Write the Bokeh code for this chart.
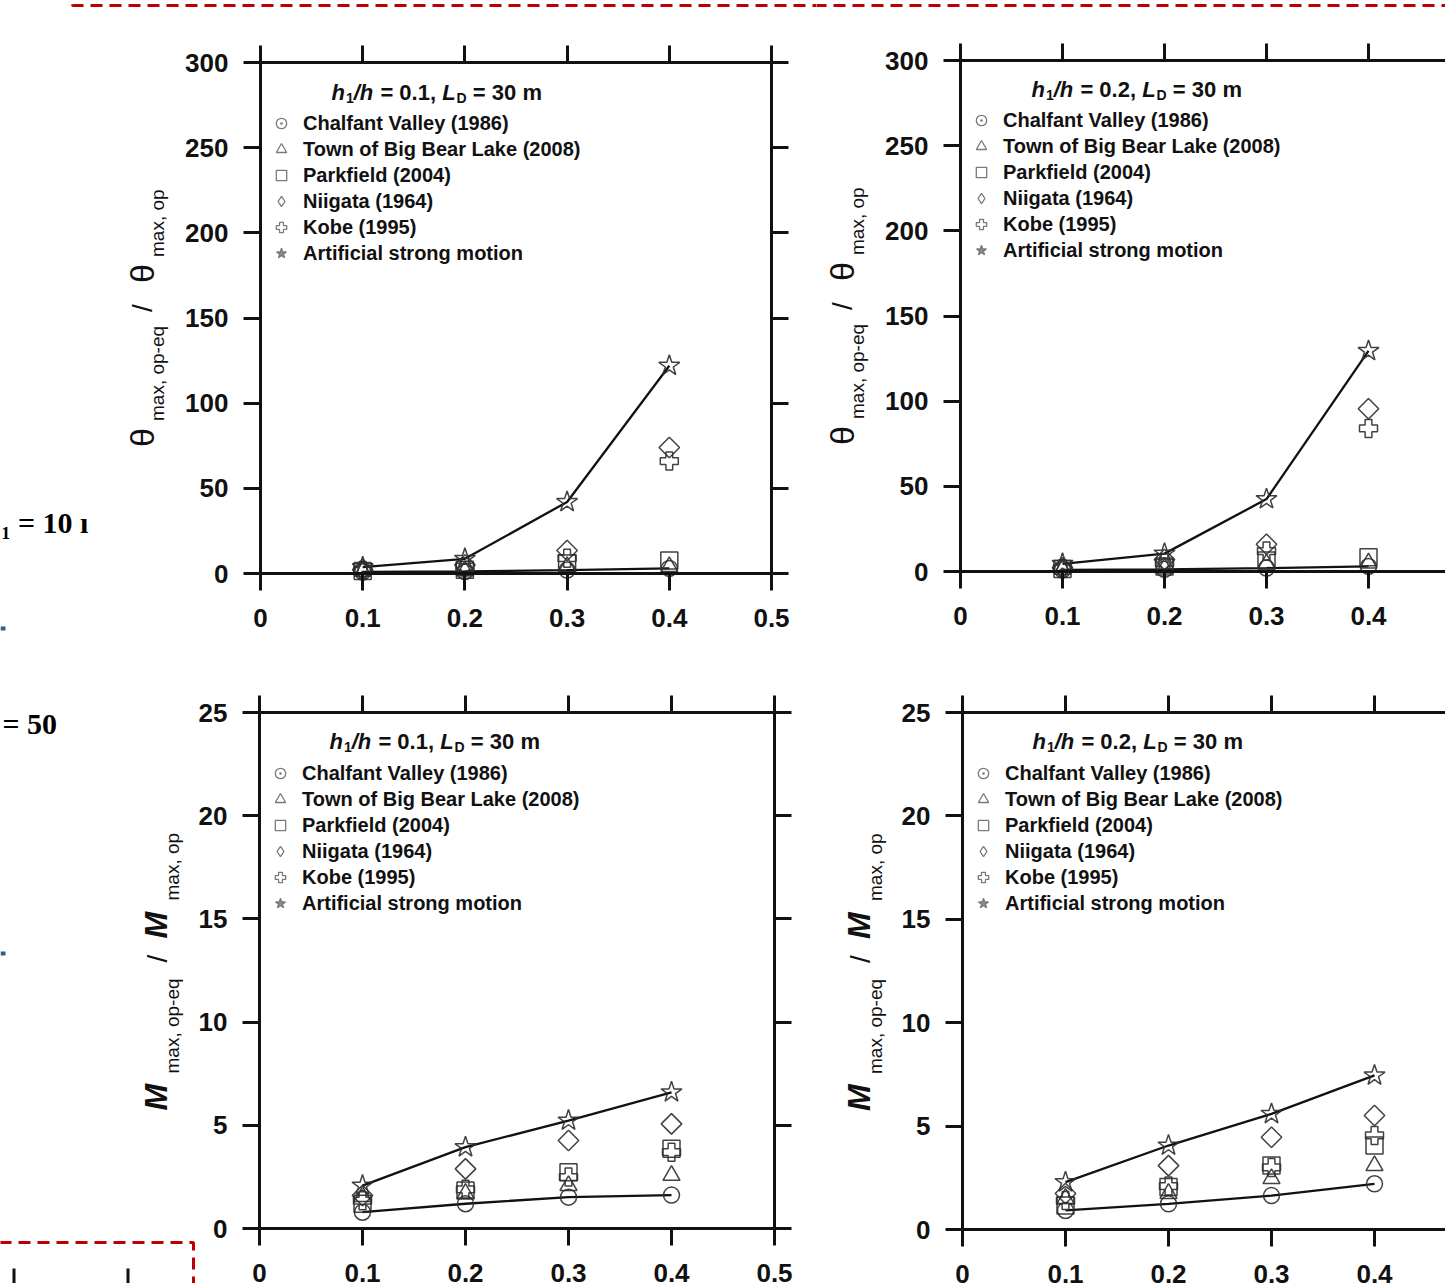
import math
from bokeh.plotting import figure
from bokeh.layouts import column, row
from bokeh.models import (Range1d, LinearAxis, FixedTicker, CustomJSTickFormatter,
                          Label, Legend, LegendItem, BoxAnnotation)
from bokeh.embed import file_html
from bokeh.resources import INLINE

# ---------------- data ----------------
ratio_h = [0.1, 0.2, 0.3, 0.4]
x_ticks = [0, 0.1, 0.2, 0.3, 0.4, 0.5]
theta_ticks = [0, 50, 100, 150, 200, 250, 300]
m_ticks = [0, 5, 10, 15, 20, 25]

events = ["Chalfant Valley (1986)", "Town of Big Bear Lake (2008)", "Parkfield (2004)",
          "Niigata (1964)", "Kobe (1995)", "Artificial strong motion"]

# theta ratio, h1/h = 0.1
theta_a_chalfant = [1.0, 1.2, 2.0, 3.0]
theta_a_bigbear = [1.3, 1.6, 4.0, 4.0]
theta_a_parkfield = [1.4, 2.2, 5.8, 7.6]
theta_a_niigata = [2.2, 5.0, 13.5, 74.0]
theta_a_kobe = [1.8, 4.0, 9.0, 66.0]
theta_a_artificial = [3.7, 8.6, 42.0, 122.0]

# theta ratio, h1/h = 0.2
theta_b_chalfant = [1.0, 1.3, 2.0, 3.0]
theta_b_bigbear = [1.3, 2.0, 4.5, 5.0]
theta_b_parkfield = [1.5, 3.0, 6.5, 8.4]
theta_b_niigata = [2.2, 7.0, 16.0, 95.5]
theta_b_kobe = [1.8, 5.0, 12.0, 84.0]
theta_b_artificial = [4.5, 10.5, 42.5, 129.5]

# moment ratio, h1/h = 0.1
m_a_chalfant = [0.79, 1.20, 1.52, 1.62]
m_a_bigbear = [1.55, 1.70, 2.08, 2.57]
m_a_parkfield = [1.20, 1.84, 2.73, 3.86]
m_a_niigata = [1.60, 2.89, 4.26, 5.07]
m_a_kobe = [1.35, 1.90, 2.49, 3.70]
m_a_artificial = [2.08, 3.94, 5.23, 6.60]

# moment ratio, h1/h = 0.2
m_b_chalfant = [0.92, 1.24, 1.64, 2.21]
m_b_bigbear = [1.50, 1.74, 2.46, 3.09]
m_b_parkfield = [1.16, 2.05, 3.09, 4.06]
m_b_niigata = [1.74, 3.09, 4.46, 5.51]
m_b_kobe = [1.40, 2.10, 3.00, 4.55]
m_b_artificial = [2.29, 4.06, 5.59, 7.45]

# ---------------- styling ----------------
FONT = "Liberation Sans"
INK = "#111111"
MK = "#2e2e2e"
NAN = float("nan")

plot_markers = [
    dict(marker="circle", size=16, angle=0.0),
    dict(marker="triangle", size=17, angle=0.0),
    dict(marker="square", size=17, angle=0.0),
    dict(marker="square", size=14.5, angle=math.pi / 4),
    dict(marker="plus", size=18, angle=0.0),
    dict(marker="star", size=22, angle=0.0),
]
legend_markers = [
    dict(marker="circle_dot", fill=None),
    dict(marker="triangle", fill=None),
    dict(marker="square", fill=None),
    dict(marker="diamond", fill=None),
    dict(marker="plus", fill=None),
    dict(marker="star", fill="#8a8a8a"),
]

BOLD_W = {'h': 611, '/': 278, ' ': 278, '=': 584, '0': 556, '1': 556, '2': 556, '3': 556,
          '.': 278, ',': 278, 'L': 611, 'D': 722, 'm': 889}


def text_width(s, size):
    return sum(BOLD_W.get(c, 556) for c in s) * size / 1000.0


def style_axis(ax, ticks, labels=True, standoff=15, overrides=None):
    ax.ticker = FixedTicker(ticks=ticks)
    ax.axis_line_width = 3
    ax.axis_line_color = INK
    ax.major_tick_line_width = 3
    ax.major_tick_line_color = INK
    ax.major_tick_in = 0
    ax.major_tick_out = 17
    ax.minor_tick_line_color = None
    ax.major_label_text_font = FONT
    ax.major_label_text_font_style = "bold"
    ax.major_label_text_font_size = "26px"
    ax.major_label_text_color = INK
    ax.major_label_standoff = standoff
    if overrides:
        ax.major_label_overrides = overrides
    if not labels:
        ax.formatter = CustomJSTickFormatter(code="return ''")
        ax.major_label_standoff = 0


def make_panel(cfg):
    W, H = cfg["canvas"]
    gx, gy = cfg["page_origin"]          # canvas top-left on the page
    px0, py0 = cfg["zero_px"]            # page pixel of data (0, 0)
    sx, sy = cfg["px_per_unit"]
    x_max, y_max = cfg["x_max"], cfg["y_max"]

    def px2x(px):
        return (px - px0) / sx

    def py2y(py):
        return (py0 - py) / sy

    p = figure(width=W, height=H,
               x_range=Range1d(px2x(gx), px2x(gx + W)),
               y_range=Range1d(py2y(gy + H), py2y(gy)),
               x_axis_type=None, y_axis_type=None,
               output_backend="svg", toolbar_location=None,
               min_border_left=0, min_border_right=0,
               min_border_top=0, min_border_bottom=0)
    p.outline_line_color = None
    p.background_fill_color = "white"
    p.border_fill_color = "white"

    # axes drawn at the data box edges
    bottom = LinearAxis(fixed_location=0, bounds=(0, x_max))
    style_axis(bottom, x_ticks, labels=True, standoff=18, overrides={0: "0"})
    p.add_layout(bottom, "below")
    top = LinearAxis(fixed_location=y_max, bounds=(0, x_max))
    style_axis(top, x_ticks, labels=False)
    p.add_layout(top, "above")
    left = LinearAxis(fixed_location=0, bounds=(0, y_max))
    style_axis(left, cfg["yticks"], labels=True, standoff=15)
    p.add_layout(left, "left")
    if cfg["right_axis"]:
        right = LinearAxis(fixed_location=x_max, bounds=(0, y_max))
        style_axis(right, cfg["yticks"], labels=False)
        p.add_layout(right, "right")

    # data
    series = cfg["series"]
    p.line(ratio_h, series[5], line_color=INK, line_width=2.3)
    p.line(ratio_h, series[0], line_color=INK, line_width=2.3)
    for ys, mk in zip(series, plot_markers):
        p.scatter(ratio_h, ys, marker=mk["marker"], size=mk["size"], angle=mk["angle"],
                  fill_color=None, line_color=MK, line_width=1.5, line_alpha=0.9)

    # legend (legend-only renderers)
    items = []
    for name, mk in zip(events, legend_markers):
        r = p.scatter(x=[NAN], y=[NAN], marker=mk["marker"], size=10,
                      fill_color=mk["fill"], line_color="#7a7a7a", line_width=1.3)
        items.append(LegendItem(label=name, renderers=[r]))
    box_top_canvas = (py0 - y_max * sy) - gy
    vy = H - (box_top_canvas + cfg["legend_top"] + 6 * 26)
    legend = Legend(items=items, location=(px0 - gx + 8, vy),
                    orientation="vertical", padding=0, spacing=0, margin=0,
                    glyph_width=26, glyph_height=26, label_height=26, label_standoff=9,
                    label_text_font=FONT, label_text_font_style="bold",
                    label_text_font_size="20px", label_text_color=INK,
                    border_line_color=None, background_fill_alpha=0)
    p.add_layout(legend)

    # panel title  h1/h = 0.x, LD = 30 m
    pieces = [("h", 22, "bold italic", 0), ("1", 14, "bold", 5), ("/h", 22, "bold italic", 0),
              (" = " + cfg["h1"] + ", ", 22, "bold", 0), ("L", 22, "bold italic", 0),
              ("D", 14, "bold", 5), (" = 30 m", 22, "bold", 0)]
    xo = cfg["title_x"]
    for txt, sz, st, dy in pieces:
        lead = len(txt) - len(txt.lstrip(" "))
        shown = txt.strip(" ")
        p.add_layout(Label(x=0, y=y_max, x_offset=xo + text_width(" " * lead, sz),
                           y_offset=-(cfg["title_base"] + dy),
                           text=shown, text_font=FONT, text_font_style=st,
                           text_font_size=f"{sz}px", text_color=INK,
                           text_align="left", text_baseline="alphabetic"))
        xo += text_width(txt, sz) + (1 if "italic" in st else 0)

    # rotated y-axis label pieces
    for txt, sz, st, ys, xb in cfg["ylabel"]:
        p.add_layout(Label(x=0, y=y_max / 2, x_offset=xb, y_offset=-ys, angle=math.pi / 2,
                           text=txt, text_font=FONT, text_font_style=st,
                           text_font_size=f"{sz}px", text_color=INK,
                           text_align="left", text_baseline="alphabetic"))

    # decorations from the surrounding page (crop artifacts)
    for l, r, t, b, kind in cfg.get("boxes", []):
        if kind == "red":
            p.add_layout(BoxAnnotation(left=px2x(l), right=px2x(r), top=py2y(t), bottom=py2y(b),
                                       fill_alpha=0, line_color="#c00000", line_alpha=1.0,
                                       line_width=3, line_dash="12 7"))
        else:
            p.add_layout(BoxAnnotation(left=px2x(l), right=px2x(r), top=py2y(t), bottom=py2y(b),
                                       fill_color=kind, fill_alpha=1, line_alpha=0))
    for txt, tx, tb in cfg.get("texts", []):
        p.add_layout(Label(x=px2x(tx), y=py2y(tb), text=txt,
                           text_font="Liberation Serif", text_font_style="bold",
                           text_font_size="30px", text_color="#000000",
                           text_align="left", text_baseline="alphabetic"))
    return p


theta_label = [("θ", 34, "normal", 129, -119), ("max, op-eq", 19, "normal", 103, -103),
               ("/", 28, "normal", -6, -118), ("θ", 34, "normal", -35, -119),
               ("max, op", 19, "normal", -61, -103)]
m_label = [("M", 32, "bold italic", 140, -104), ("max, op-eq", 19, "normal", 103, -87),
           ("/", 28, "normal", -8, -102), ("M", 32, "bold italic", -32, -104),
           ("max, op", 19, "normal", -70, -87)]

tl = make_panel(dict(canvas=(816, 640), page_origin=(0, 0), zero_px=(260, 573),
                     px_per_unit=(1022, 511 / 300), x_max=0.5, y_max=300,
                     yticks=theta_ticks, right_axis=True, h1="0.1",
                     title_x=71, title_base=30, legend_top=48, ylabel=theta_label,
                     series=[theta_a_chalfant, theta_a_bigbear, theta_a_parkfield,
                             theta_a_niigata, theta_a_kobe, theta_a_artificial],
                     boxes=[(72, 900, -60, 5, "red"), (0, 5, 626, 630, "#2f5d8c")],
                     texts=[("₁ = 10 ı", 1, 522)]))

tr = make_panel(dict(canvas=(629, 640), page_origin=(816, 0), zero_px=(960, 571),
                     px_per_unit=(1020, 511 / 300), x_max=0.5, y_max=300,
                     yticks=theta_ticks, right_axis=False, h1="0.2",
                     title_x=71, title_base=29, legend_top=47, ylabel=theta_label,
                     series=[theta_b_chalfant, theta_b_bigbear, theta_b_parkfield,
                             theta_b_niigata, theta_b_kobe, theta_b_artificial],
                     boxes=[(700, 1500, -60, 5, "red")]))

bl = make_panel(dict(canvas=(819, 643), page_origin=(0, 640), zero_px=(259, 1228),
                     px_per_unit=(1030, 516 / 25), x_max=0.5, y_max=25,
                     yticks=m_ticks, right_axis=True, h1="0.1",
                     title_x=70, title_base=29, legend_top=48, ylabel=m_label,
                     series=[m_a_chalfant, m_a_bigbear, m_a_parkfield,
                             m_a_niigata, m_a_kobe, m_a_artificial],
                     boxes=[(-20, 193, 1242, 1330, "red"), (0, 5, 951, 955, "#2f5d8c"),
                            (12, 15, 1268, 1300, "#111111"), (126, 129, 1268, 1300, "#111111")],
                     texts=[("= 50", 2, 723)]))

br = make_panel(dict(canvas=(626, 643), page_origin=(819, 640), zero_px=(962, 1229),
                     px_per_unit=(1030, 517 / 25), x_max=0.5, y_max=25,
                     yticks=m_ticks, right_axis=False, h1="0.2",
                     title_x=70, title_base=29, legend_top=48, ylabel=m_label,
                     series=[m_b_chalfant, m_b_bigbear, m_b_parkfield,
                             m_b_niigata, m_b_kobe, m_b_artificial]))

layout = column(row(tl, tr, spacing=0), row(bl, br, spacing=0), spacing=0)
open("out.html", "w").write(file_html(layout, INLINE))
